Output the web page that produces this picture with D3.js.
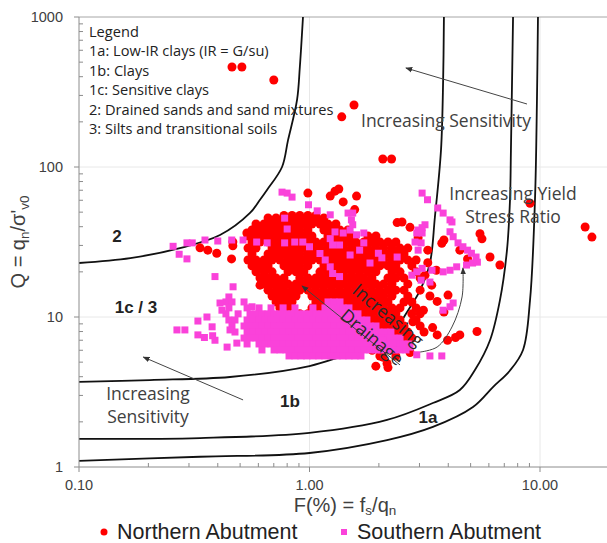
<!DOCTYPE html>
<html>
<head>
<meta charset="utf-8">
<script src="https://cdn.jsdelivr.net/npm/d3@7"></script>
<style>
  body { margin: 0; background: #fff; }
  svg { display: block; font-family: "Open Sans", sans-serif; }
  .lib { font-family: "Liberation Sans", Arial, sans-serif; }
</style>
</head>
<body>
<svg id="chart" width="607" height="543"></svg>
<script>
// axis ticks
const xTicks = [0.1, 1, 10], xTickLabels = ["0.10", "1.00", "10.00"];
const yTicks = [1, 10, 100, 1000], yTickLabels = ["1", "10", "100", "1000"];
const xMinor = [0.2,0.3,0.4,0.5,0.6,0.7,0.8,0.9, 2,3,4,5,6,7,8,9];
const yMinor = [2,3,4,5,6,7,8,9, 20,30,40,50,60,70,80,90, 200,300,400,500,600,700,800,900];

// zone boundaries [F%, Q]
const boundary2  = [[0.1,22.9],[0.167,24.7],[0.274,28.8],[0.409,35.2],[0.552,49.4],[0.61,60.5],[0.654,70.3],[0.76,100],[0.807,151],[0.883,280],[0.908,464],[0.937,1000]];
const boundary1c = [[0.1,3.69],[0.203,3.80],[0.452,3.98],[1.0,4.71],[1.35,5.41],[1.79,6.31],[2.30,7.94],[2.68,11.1],[3.02,15.1],[3.33,22.9],[3.50,46.4],[3.72,130],[3.80,380],[3.83,1000]];
const boundary1b = [[0.1,1.54],[0.335,1.56],[1.0,1.69],[2.17,2.06],[3.43,2.67],[4.49,3.26],[5.22,4.43],[6.07,7.0],[6.7,12.9],[7.19,27.9],[7.41,60.3],[7.48,130],[7.64,1000]];
const boundary1a = [[0.1,1.10],[0.335,1.17],[1.0,1.24],[2.17,1.51],[3.43,1.85],[5.12,2.51],[6.25,3.41],[7.41,4.4],[8.44,6.03],[9.05,12.9],[9.51,60.3],[9.7,280],[9.80,1000]];

// Northern Abutment: dense core, rows of [Q, F list]
const northernRows = [
  [47.5, [0.775,0.840,0.908,0.984,1.066]],
  [45.7, [0.661,0.716,0.775,0.840,0.908,0.984,1.066,1.155]],
  [41.7, [0.586,0.635,0.688,0.744,0.807,0.874,0.946,1.025,1.11,1.202,1.302]],
  [38.0, [0.563,0.610,0.661,0.716,0.775,0.840,0.908,0.984,1.155,1.251,1.355,1.468]],
  [34.7, [0.541,0.586,0.635,0.688,0.744,0.807,0.874,0.946,1.025,1.202,1.302,1.410,1.528,1.793,1.942]],
  [31.6, [0.563,0.610,0.661,0.716,0.775,0.840,0.908,0.984,1.066,1.155,1.251,1.355,1.468,1.590,1.722,1.866,2.02,2.19,2.37]],
  [28.8, [0.541,0.586,0.688,0.744,0.807,0.874,0.946,1.025,1.11,1.202,1.302,1.410,1.528,1.655,1.793,1.942,2.10,2.28,2.47,2.67]],
  [26.3, [0.563,0.661,0.716,0.775,0.840,0.908,0.984,1.066,1.155,1.251,1.355,1.468,1.590,1.722,1.866,2.02,2.19,2.37,2.57]],
  [24.0, [0.541,0.586,0.635,0.688,0.744,0.807,0.874,0.946,1.025,1.11,1.202,1.302,1.410,1.528,1.655,1.793,1.942,2.10,2.28,2.47,2.67,2.90]],
  [21.9, [0.563,0.610,0.661,0.775,0.840,0.908,0.984,1.155,1.251,1.355,1.468,1.590,1.722,1.866,2.02,2.19,2.37,2.78]],
  [20.0, [0.586,0.635,0.688,0.807,0.874,0.946,1.11,1.202,1.302,1.410,1.528,1.655,1.793,1.942,2.28,2.47,2.90]],
  [18.2, [0.610,0.661,0.716,0.775,0.908,0.984,1.066,1.155,1.251,1.355,1.468,1.590,1.722,1.866,2.19,2.37,2.57,3.02]],
  [16.6, [0.635,0.688,0.744,0.807,0.874,0.946,1.025,1.11,1.202,1.302,1.410,1.528,1.655,1.793,1.942,2.10,2.28,2.67]],
  [15.1, [0.661,0.716,0.775,0.840,0.908,0.984,1.066,1.155,1.251,1.355,1.468,1.590,1.722,1.866,2.02,2.19,2.37,2.57]],
  [13.8, [0.688,0.744,0.807,0.874,1.025,1.11,1.202,1.302,1.410,1.528,1.655,1.793,1.942,2.10,2.28,2.67]],
  [12.6, [0.716,0.775,0.840,1.066,1.155,1.251,1.355,1.468,1.590,1.722,1.866,2.02,2.19,2.57,2.78]],
  [11.5, [0.744,0.807,1.025,1.11,1.202,1.302,1.410,1.528,1.655,1.793,1.942,2.10,2.28,2.47,2.90]],
  [10.5, [0.908,0.984,1.066,1.155,1.251,1.355,1.468,1.590,1.722,1.866,2.02,2.19,2.37,2.78,3.02]],
  [9.55, [1.202,1.302,1.410,1.528,1.655,1.793,1.942,2.10,2.28,2.47,2.90]],
  [8.71, [1.590,1.722,1.866,2.02,2.19,2.37,2.57,3.02]],
  [7.94, [1.793,1.942,2.10,2.28,2.47,2.67,3.14]],
  [7.24, [2.02,2.19,2.37,2.57,2.78]],
  [6.61, [2.10,2.28,2.47,2.67]]
];
// Northern Abutment: scattered points [F, Q]
const northernScatter = [
  [0.461,464],[0.509,464],[0.70,380],[1.38,216],[1.56,259],[2.08,113],[2.27,113],
  [9.05,57.3],[15.7,39.8],[16.8,34.1],
  [0.984,67.0],[1.23,64.0],[1.29,69.0],[1.34,71.3],[1.60,64.0],[1.40,58.5],[1.57,52.0],[2.40,42.6],
  [2.52,43.0],[2.73,39.6],[3.83,32.6],[4.49,27.9],[5.49,35.9],[5.6,33.2],[6.07,25.1],[6.7,22.2],[4.85,24.4],[3.26,27.9],[2.96,33.7],[3.75,31.0],
  [3.26,23.0],[3.55,20.5],[3.17,19.0],[3.39,16.3],[3.99,14.0],
  [3.02,15.1],[3.33,13.8],[3.58,12.7],[3.83,10.8],[3.12,11.1],[2.81,9.3],[3.42,8.5],[3.58,7.6],[3.97,7.0],[4.49,7.6],[5.33,8.0],[4.3,7.3],
  [2.73,5.8],[2.08,5.4],[2.17,4.9],[1.87,6.0],[2.02,5.5],[1.94,4.7],[2.19,4.6],[2.37,5.5],
  [0.335,28.9],[0.362,27.9],[0.396,26.6],[0.459,24.4],[0.465,31.6],[0.465,29.8],[0.58,23.9],[0.61,16.3],[0.535,36.3],[0.569,38.0],[0.596,33.5]
];

// Southern Abutment: dense band, rows of [Q, F list]
const southernRows = [
  [12.6, [0.434,0.461,0.520,1.203,1.277,1.356]],
  [11.5, [0.447,0.536,0.604,0.681,0.768,0.865,1.035,1.167,1.239,1.316,1.397,1.483]],
  [10.5, [0.434,0.490,0.552,0.586,0.622,0.661,0.702,0.745,0.791,0.840,0.892,0.946,1.005,1.067,1.133,1.203,1.277,1.356,1.440,1.529,1.623]],
  [9.55, [0.447,0.475,0.536,0.569,0.604,0.641,0.681,0.723,0.768,0.815,0.865,0.919,0.975,1.035,1.099,1.167,1.239,1.316,1.397,1.483,1.575,1.672,1.775]],
  [8.71, [0.461,0.520,0.552,0.586,0.622,0.661,0.702,0.745,0.791,0.840,0.892,0.946,1.005,1.067,1.133,1.203,1.277,1.356,1.440,1.529,1.623,1.723,1.830,1.943]],
  [7.94, [0.475,0.536,0.569,0.604,0.641,0.681,0.723,0.768,0.815,0.865,0.919,0.975,1.035,1.099,1.167,1.239,1.316,1.397,1.483,1.575,1.672,1.775,1.885,2.001,2.125,2.256]],
  [7.24, [0.520,0.552,0.586,0.622,0.661,0.702,0.745,0.791,0.840,0.892,0.946,1.005,1.067,1.133,1.203,1.277,1.356,1.440,1.529,1.623,1.723,1.830,1.943,2.063,2.191,2.326,2.470]],
  [6.61, [0.536,0.604,0.641,0.681,0.723,0.768,0.815,0.865,0.919,0.975,1.035,1.099,1.167,1.239,1.316,1.397,1.483,1.575,1.672,1.775,1.885,2.001,2.125,2.256,2.395,2.543,2.700]],
  [6.03, [0.622,0.702,0.745,0.791,0.840,0.892,0.946,1.005,1.067,1.133,1.203,1.277,1.356,1.440,1.529,1.623,1.723,1.830,1.943,2.063,2.191,2.326,2.470,2.622]],
  [5.50, [0.815,0.865,0.919,0.975,1.035,1.099,1.167,1.239,1.316,1.397,1.483,1.575,1.672]]
];
// Southern Abutment: scattered points [F, Q]
const southernScatter = [
  [0.266,8.2],[0.288,8.2],[0.328,9.4],[0.359,10.0],[0.378,8.6],[0.409,12.4],[0.417,11.1],[0.389,7.0],[0.439,6.3],[0.484,6.7],[0.38,7.5],[0.328,7.6],[0.452,8.2],[0.35,7.3],
  [0.256,29.6],[0.272,26.2],[0.294,31.2],[0.31,31.2],[0.294,24.4],[0.352,32.6],[0.40,32.1],[0.46,32.6],[0.515,32.6],[0.389,18.6],[0.466,15.9],[0.447,13.6],[0.563,11.7],
  [0.59,31.6],[0.655,31.2],[0.78,31.2],[0.863,31.6],[0.935,31.6],[1.0,29.4],[1.23,33.3],[1.29,36.9],[1.40,36.3],[1.50,38.0],[1.60,35.3],[1.72,36.3],[1.26,30.2],[1.35,30.2],
  [1.11,26.5],[1.17,24.0],[1.23,21.6],[1.26,19.5],[1.35,18.6],[1.72,31.2],[1.65,27.9],[1.50,25.9],[1.99,26.6],[2.06,24.8],[1.83,22.9],[2.40,25.1],
  [0.76,68.0],[0.80,67.0],[0.84,63.0],[0.99,56.0],[1.08,51.0],[1.23,48.0],[1.47,49.3],[1.54,49.3],[1.52,44.4],[1.54,41.2],[0.78,45.6],[0.80,38.6],
  [3.08,67.0],[3.25,60.5],[3.60,53.3],[3.80,49.3],[4.07,44.4],[4.15,43.0],[4.07,37.0],[4.20,34.3],[4.41,31.2],[4.63,29.4],[4.85,27.9],[5.04,26.6],[5.28,25.1],[5.35,23.2],[5.10,22.9],[4.80,22.2],[4.35,21.6],[4.07,20.5],[3.80,20.0],[3.40,20.5],[3.08,21.1],[2.92,20.0],[2.78,19.0],[3.05,17.6],[3.33,17.1],[3.17,41.2],[2.96,38.0],[3.08,36.3],[3.05,31.2],[2.87,31.6],[2.96,27.9],[3.08,39.4],[2.92,36.3],
  [3.80,11.1],[4.07,11.7],[4.20,12.4],[2.92,5.6],[3.33,5.5],[3.75,5.5],[2.08,7.0],[2.30,6.7],[2.73,6.3]
];

const legendLines = ["Legend", "1a: Low-IR clays (IR = G/su)", "1b: Clays", "1c: Sensitive clays",
  "2: Drained sands and sand mixtures", "3: Silts and transitional soils"];

const plotLeft = 79, plotRight = 607, plotTop = 17, plotBottom = 467;
const svg = d3.select('#chart');

const x = d3.scaleLog().domain([0.1, 10]).range([plotLeft, 540]); // extends past 10 up to ~20
const y = d3.scaleLog().domain([1, 1000]).range([plotBottom, plotTop]);

const defs = svg.append('defs');
defs.append('clipPath').attr('id', 'plot')
  .append('rect').attr('x', plotLeft).attr('y', plotTop)
  .attr('width', plotRight - plotLeft).attr('height', plotBottom - plotTop);
defs.append('marker')
  .attr('id', 'arrow').attr('viewBox', '0 0 10 10').attr('refX', 9).attr('refY', 5)
  .attr('markerWidth', 7).attr('markerHeight', 7).attr('orient', 'auto-start-reverse')
  .append('path').attr('d', 'M0,1 L10,5 L0,9 z').attr('fill', '#333');

// gridlines
svg.selectAll('.vgrid').data([1, 10]).enter().append('line')
  .attr('x1', d => x(d)).attr('x2', d => x(d)).attr('y1', plotTop).attr('y2', plotBottom)
  .attr('stroke', '#e8e8e8');
svg.selectAll('.hgrid').data([10, 100]).enter().append('line')
  .attr('x1', plotLeft).attr('x2', plotRight).attr('y1', d => y(d)).attr('y2', d => y(d))
  .attr('stroke', '#e8e8e8');
svg.append('line').attr('x1', plotLeft).attr('x2', plotRight).attr('y1', plotTop).attr('y2', plotTop)
  .attr('stroke', '#a6a6a6');

const plot = svg.append('g').attr('clip-path', 'url(#plot)');

// boundaries
const line = d3.line().x(d => x(d[0])).y(d => y(d[1])).curve(d3.curveCatmullRom.alpha(0.5));
[boundary2, boundary1c, boundary1b, boundary1a].forEach(b => {
  plot.append('path').datum(b).attr('d', line)
    .attr('fill', 'none').attr('stroke', '#111').attr('stroke-width', 1.8);
});

// points
const northern = northernRows.flatMap(r => r[1].map(f => [f, r[0]])).concat(northernScatter);
const southern = southernRows.flatMap(r => r[1].map(f => [f, r[0]])).concat(southernScatter);

plot.selectAll('.north').data(northern).enter().append('circle')
  .attr('cx', d => x(d[0])).attr('cy', d => y(d[1])).attr('r', 4.5).attr('fill', '#ff0000');
plot.selectAll('.south').data(southern).enter().append('rect')
  .attr('x', d => x(d[0]) - 3.5).attr('y', d => y(d[1]) - 3.5)
  .attr('width', 7).attr('height', 7).attr('fill', '#fa42da');

// arrows
function arrowLine(a, b) {
  svg.append('line').attr('x1', x(a[0])).attr('y1', y(a[1])).attr('x2', x(b[0])).attr('y2', y(b[1]))
    .attr('stroke', '#444').attr('stroke-width', 1).attr('marker-end', 'url(#arrow)');
}
arrowLine([8.78, 263], [2.62, 457]);
arrowLine([0.515, 2.80], [0.19, 5.41]);
arrowLine([2.47, 4.79], [0.928, 16.1]);
svg.append('path')
  .datum([[3.02, 5.84], [3.58, 6.31], [4.15, 8.58], [4.59, 13.6], [4.63, 21.2]])
  .attr('d', line).attr('fill', 'none').attr('stroke', '#444').attr('stroke-width', 1)
  .attr('marker-end', 'url(#arrow)');

// annotation texts
function note(t, px, py, opts = {}) {
  return svg.append('text').attr('x', px).attr('y', py).text(t)
    .attr('text-anchor', opts.anchor || 'middle')
    .attr('font-size', opts.size || 17.5)
    .attr('font-weight', opts.bold ? 'bold' : null)
    .attr('class', opts.bold ? 'lib' : null)
    .attr('fill', opts.fill || '#404040');
}
note('Increasing Sensitivity', 446, 127);
note('Increasing', 148, 400);
note('Sensitivity', 148, 423);
note('Increasing Yield', 513, 200);
note('Stress Ratio', 513, 223);
note('Increasing', 0, 0, { size: 18, fill: '#2a2a2a' }).attr('transform', 'translate(384,320) rotate(40)');
note('Drainage', 0, 0, { size: 18, fill: '#2a2a2a' }).attr('transform', 'translate(368,342) rotate(40)');

note('2', 117, 242, { bold: true, size: 17, fill: '#222' });
note('1c / 3', 136, 313, { bold: true, size: 17, fill: '#222' });
note('1b', 290, 407, { bold: true, size: 17, fill: '#222' });
note('1a', 428, 423, { bold: true, size: 17, fill: '#222' });

svg.selectAll('.legline').data(legendLines).enter().append('text')
  .attr('x', 89).attr('y', (d, i) => 37 + i * 19.4)
  .attr('font-size', 14.6).attr('fill', '#222').text(d => d);

// axes
const axisCol = '#8c8c8c';
svg.append('line').attr('x1', plotLeft).attr('x2', plotLeft).attr('y1', plotTop).attr('y2', plotBottom).attr('stroke', axisCol);
svg.append('line').attr('x1', plotLeft).attr('x2', plotRight).attr('y1', plotBottom).attr('y2', plotBottom).attr('stroke', axisCol);
svg.selectAll('.xmaj').data(xTicks).enter().append('line')
  .attr('x1', d => x(d)).attr('x2', d => x(d)).attr('y1', plotBottom).attr('y2', plotBottom + 5).attr('stroke', axisCol);
svg.selectAll('.xmin').data(xMinor).enter().append('line')
  .attr('x1', d => x(d)).attr('x2', d => x(d)).attr('y1', plotBottom).attr('y2', plotBottom - 4).attr('stroke', axisCol);
svg.selectAll('.ymaj').data(yTicks).enter().append('line')
  .attr('x1', plotLeft - 5).attr('x2', plotLeft).attr('y1', d => y(d)).attr('y2', d => y(d)).attr('stroke', axisCol);
svg.selectAll('.ymin').data(yMinor).enter().append('line')
  .attr('x1', plotLeft).attr('x2', plotLeft + 4).attr('y1', d => y(d)).attr('y2', d => y(d)).attr('stroke', axisCol);

svg.selectAll('.xlab').data(xTicks).enter().append('text').attr('class', 'lib')
  .attr('x', d => x(d)).attr('y', 490).attr('text-anchor', 'middle')
  .attr('font-size', 14.5).attr('fill', '#404040').text((d, i) => xTickLabels[i]);
svg.selectAll('.ylab').data(yTicks).enter().append('text').attr('class', 'lib')
  .attr('x', 63).attr('y', d => y(d) + 5).attr('text-anchor', 'end')
  .attr('font-size', 14.5).attr('fill', '#404040').text((d, i) => yTickLabels[i]);

// axis titles
const xt = svg.append('text').attr('class', 'lib').attr('x', 345).attr('y', 512).attr('text-anchor', 'middle')
  .attr('font-size', 20).attr('fill', '#404040');
xt.append('tspan').text('F(%) = f');
xt.append('tspan').attr('dy', 3).attr('font-size', 13.5).text('s');
xt.append('tspan').attr('dy', -3).text('/q');
xt.append('tspan').attr('dy', 3).attr('font-size', 13.5).text('n');

const yt = svg.append('text').attr('class', 'lib').attr('transform', 'translate(25,242) rotate(-90)')
  .attr('text-anchor', 'middle').attr('font-size', 20).attr('fill', '#404040');
yt.append('tspan').text('Q = q');
yt.append('tspan').attr('dy', 4).attr('font-size', 13.5).text('n');
yt.append('tspan').attr('dy', -4).text('/σ\'');
yt.append('tspan').attr('dy', 4).attr('font-size', 13.5).text('v0');

// series legend
svg.append('circle').attr('cx', 104).attr('cy', 532).attr('r', 3.5).attr('fill', '#ff0000');
svg.append('text').attr('class', 'lib').attr('x', 117).attr('y', 539).attr('font-size', 21.5)
  .attr('fill', '#222').text('Northern Abutment');
svg.append('rect').attr('x', 341).attr('y', 529).attr('width', 6).attr('height', 6).attr('fill', '#fa42da');
svg.append('text').attr('class', 'lib').attr('x', 357).attr('y', 539).attr('font-size', 21.5)
  .attr('fill', '#222').text('Southern Abutment');
</script>
</body>
</html>
